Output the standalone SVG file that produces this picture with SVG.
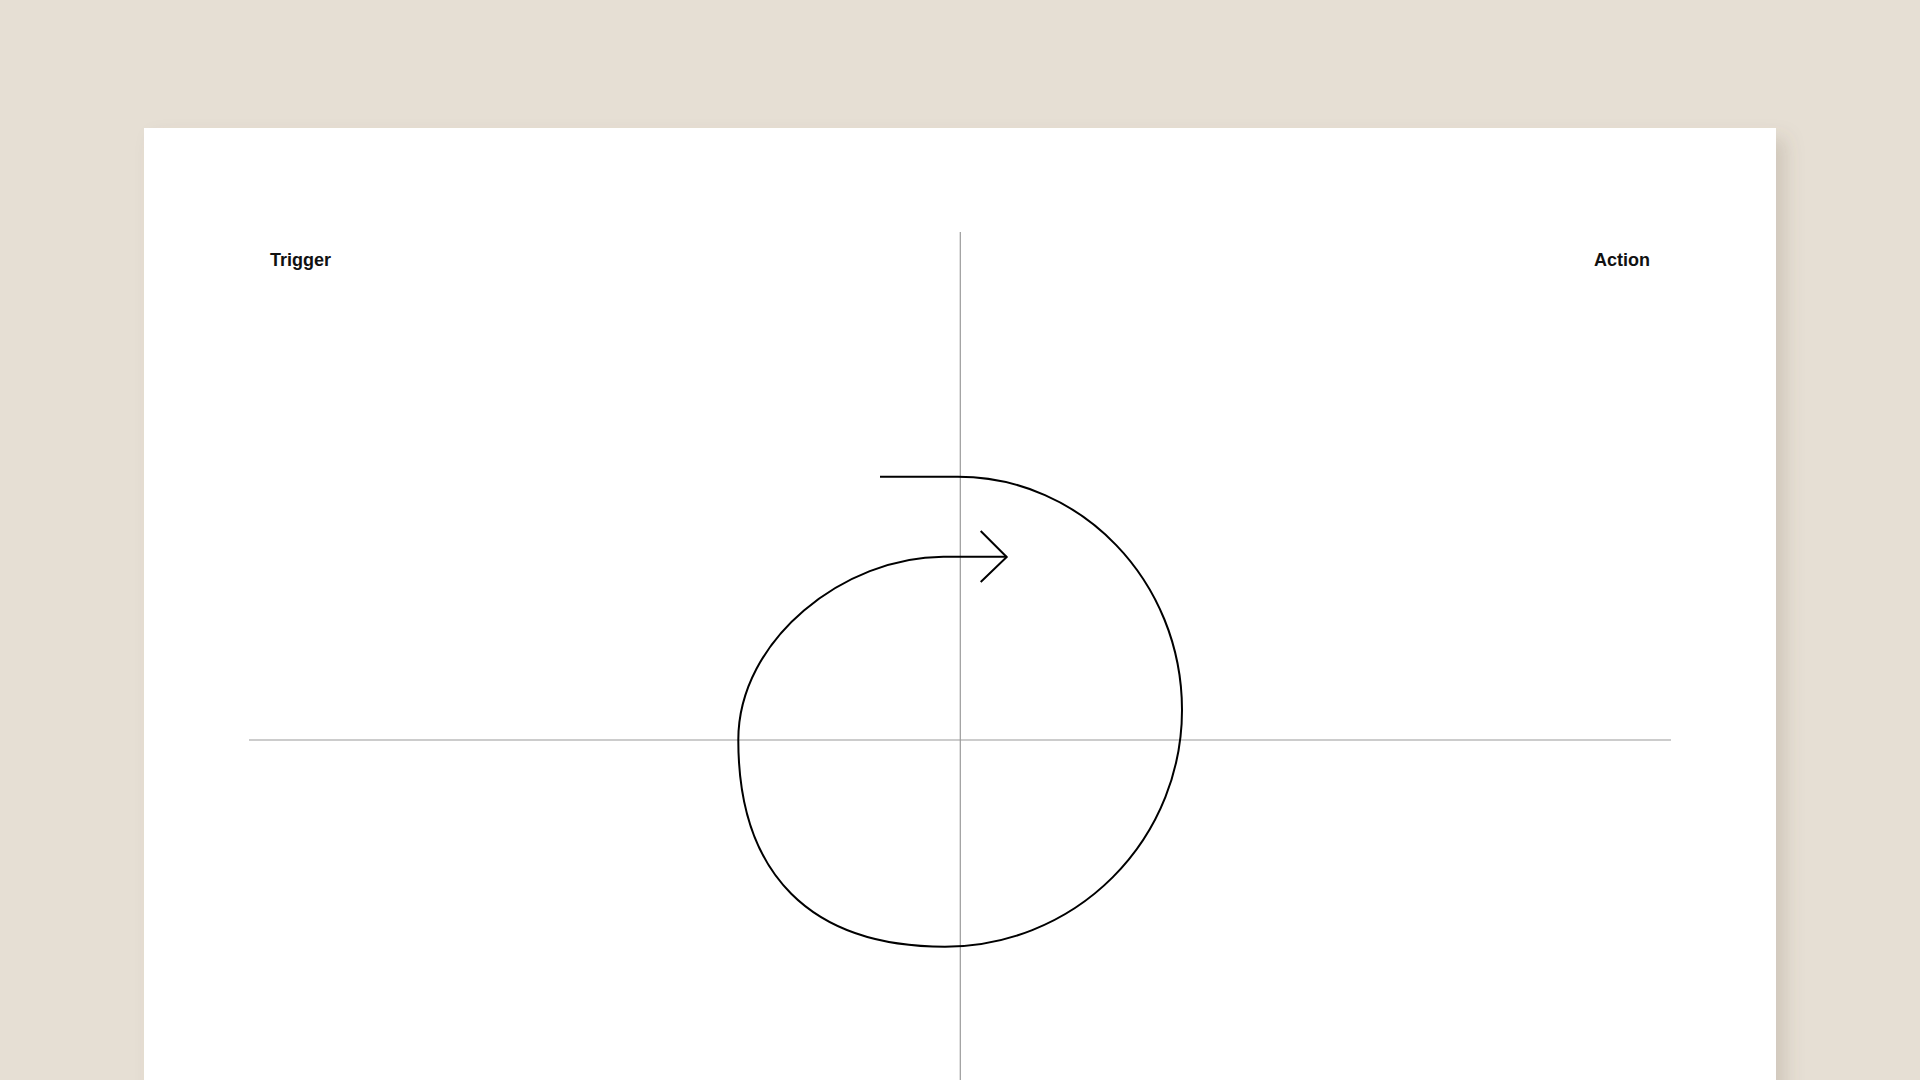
<svg xmlns="http://www.w3.org/2000/svg" width="1920" height="1080" viewBox="0 0 1920 1080">
  <defs>
    <filter id="shadow" x="-5%" y="-5%" width="115%" height="115%">
      <feDropShadow dx="10" dy="10" stdDeviation="9" flood-color="#6b5f4c" flood-opacity="0.18"/>
    </filter>
    <style>
      .axis { stroke: #9a9a9a; stroke-width: 1.2; fill: none; }
      .curve { stroke: #000; stroke-width: 2; fill: none; stroke-linejoin: miter; }
      .label { font-family: "Liberation Sans", Arial, sans-serif; font-weight: bold; font-size: 18px; fill: #111; }
    </style>
  </defs>
  <rect x="0" y="0" width="1920" height="1080" fill="#E6DFD4"/>
  <rect id="panel" x="144" y="128" width="1632" height="980" fill="#ffffff" filter="url(#shadow)"/>
  <g id="axes">
    <line class="axis" x1="960.3" y1="232" x2="960.3" y2="1080"/>
    <line class="axis" x1="249" y1="740" x2="1671" y2="740"/>
  </g>
  <g id="trigger"><text class="label" x="270" y="266">Trigger</text></g>
  <g id="action"><text class="label" x="1650" y="266" text-anchor="end">Action</text></g>
  <g id="connectors">
    <path class="curve" d="M880,476.7 H958 C1081.2,476.7 1182,581.3 1182,710 A237,236.7 0 0 1 945,946.7 C810.6,946.7 738.3,874.4 738.3,740 C738.3,639 845,556.7 943.3,556.7 H1006.7"/>
    <path class="curve" d="M980.7,531 L1006.7,557 L980.7,582"/>
  </g>
</svg>
